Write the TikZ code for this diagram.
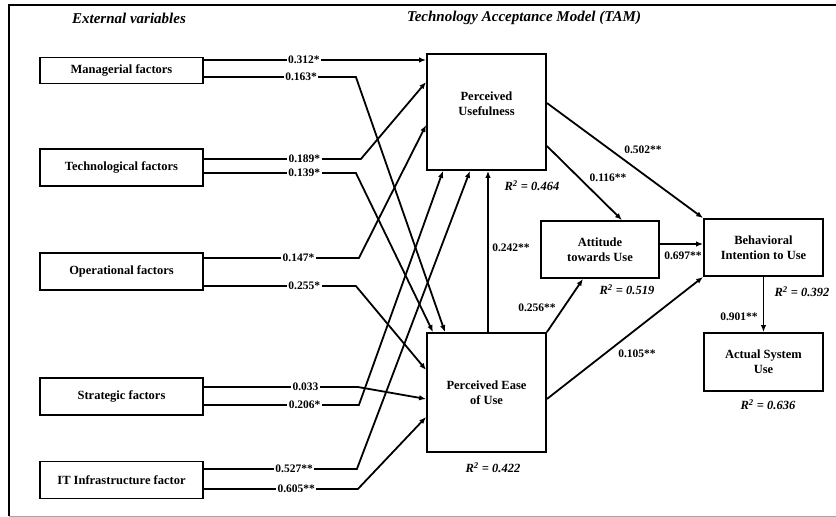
\documentclass[tikz,border=0pt]{standalone}
\usepackage{fontspec}
\setmainfont{Liberation Serif}
\usetikzlibrary{positioning, arrows.meta}

\begin{document}
\begin{tikzpicture}[
  x=1pt, y=-1pt,
  >={Latex[length=7pt,width=5.5pt]},
  every node/.style={inner sep=0pt},
  factor/.style={draw, line width=1.8pt, minimum width=163pt, minimum height=37pt, align=center, font=\fontsize{12.5}{14}\selectfont\bfseries},
  construct/.style={draw, line width=1.8pt, minimum width=119pt, align=center, font=\fontsize{12.5}{15}\selectfont\bfseries},
  coef/.style={font=\fontsize{11.5}{12}\selectfont\bfseries, fill=white, inner sep=1.5pt},
  tamcoef/.style={font=\fontsize{11.5}{12}\selectfont\bfseries},
  rsq/.style={font=\fontsize{12.5}{13}\selectfont\bfseries\itshape},
  heading/.style={font=\fontsize{15}{16}\selectfont\bfseries\itshape},
  link/.style={line width=1.8pt, ->}
]
\useasboundingbox (0,0) rectangle (836,517);
% Frame
\draw[line width=2pt] (9,516) -- (9,5) -- (836,5);
\draw[gray!70, line width=1pt] (9,516) -- (836,516);
% Headings
\node[heading] (extv) at (129,18) {External variables};
\node[heading] (tamh) at (524,18) {Technology Acceptance Model (TAM)};
% External variables
\node[factor, minimum height=26pt] (mng) at (121.5,70.5) {Managerial factors};
\node[factor] (tec) at (121.5,167.5) {Technological factors};
\node[factor] (opr) at (121.5,271.5) {Operational factors};
\node[factor] (str) at (121.5,396.5) {Strategic factors};
\node[factor] (itf) at (121.5,480) {IT Infrastructure factor};
% TAM constructs
\node[construct, minimum height=116pt, text depth=17pt] (pu) at (486.5,112) {Perceived\\Usefulness};
\node[construct, minimum height=119pt] (peou) at (486.5,392.5) {Perceived Ease\\of Use};
\node[construct, minimum width=118pt, minimum height=57pt] (att) at (600,249.5) {Attitude\\towards Use};
\node[construct, minimum height=57pt] (bi) at (763.5,247.5) {Behavioral\\Intention to Use};
\node[construct, minimum height=58pt] (asu) at (763.5,362) {Actual System\\Use};
% External variables -> PU / PEOU
\draw[link] (mng.east |- 0,60) -- node[coef, pos=0.45] {0.312*} (pu.west |- 0,60);
\draw[link] (mng.east |- 0,77) -- node[coef, pos=0.64] {0.163*} ++(152,0) -- (peou.north -| 445,0);
\draw[link] (tec.east |- 0,159) -- node[coef, pos=0.64] {0.189*} ++(157,0) -- (pu.west |- 0,82);
\draw[link] (tec.east |- 0,173) -- node[coef, pos=0.66] {0.139*} ++(152,0) -- (peou.north -| 433,0);
\draw[link] (opr.east |- 0,258) -- node[coef, pos=0.61] {0.147*} ++(155,0) -- (pu.west |- 0,125);
\draw[link] (opr.east |- 0,286) -- node[coef, pos=0.66] {0.255*} ++(152,0) -- (peou.west |- 0,370);
\draw[link] (str.east |- 0,387) -- node[coef, pos=0.66] {0.033} ++(154,0) -- (peou.west |- 0,399);
\draw[link] (str.east |- 0,405) -- node[coef, pos=0.65] {0.206*} ++(155,0) -- (pu.south -| 443,0);
\draw[link] (itf.east |- 0,469) -- node[coef, pos=0.59] {0.527**} ++(153,0) -- (pu.south -| 470,0);
\draw[link] (itf.east |- 0,489) -- node[coef, pos=0.60] {0.605**} ++(154,0) -- (peou.west |- 0,417);
% TAM paths
\draw[link] (peou.north -| 488,0) -- (pu.south -| 488,0);
\draw[link] (pu.east |- 0,146) -- (att.north -| 622,0);
\draw[link] (pu.east |- 0,103) -- (bi.north west);
\draw[link] (peou.north east) -- (att.south -| 583,0);
\draw[link] (peou.east |- 0,399) -- (bi.south west);
\draw[link] (att.east |- 0,244) -- (bi.west |- 0,244);
\draw[link] (bi.south) -- (asu.north);
% Path coefficients
\node[tamcoef] (c242) at (511,248) {0.242**};
\node[tamcoef] (c502) at (643,150) {0.502**};
\node[tamcoef] (c116) at (608,178) {0.116**};
\node[tamcoef] (c697) at (683,256) {0.697**};
\node[tamcoef] (c256) at (537,308) {0.256**};
\node[tamcoef] (c105) at (637,354) {0.105**};
\node[tamcoef] (c901) at (739,317) {0.901**};
% Explained variance
\node[rsq] (r464) at (532,186) {R\textsuperscript{2} = 0.464};
\node[rsq] (r519) at (627,290) {R\textsuperscript{2} = 0.519};
\node[rsq] (r392) at (802,292) {R\textsuperscript{2} = 0.392};
\node[rsq] (r636) at (768,405) {R\textsuperscript{2} = 0.636};
\node[rsq] (r422) at (493,468) {R\textsuperscript{2} = 0.422};
\end{tikzpicture}
\end{document}
